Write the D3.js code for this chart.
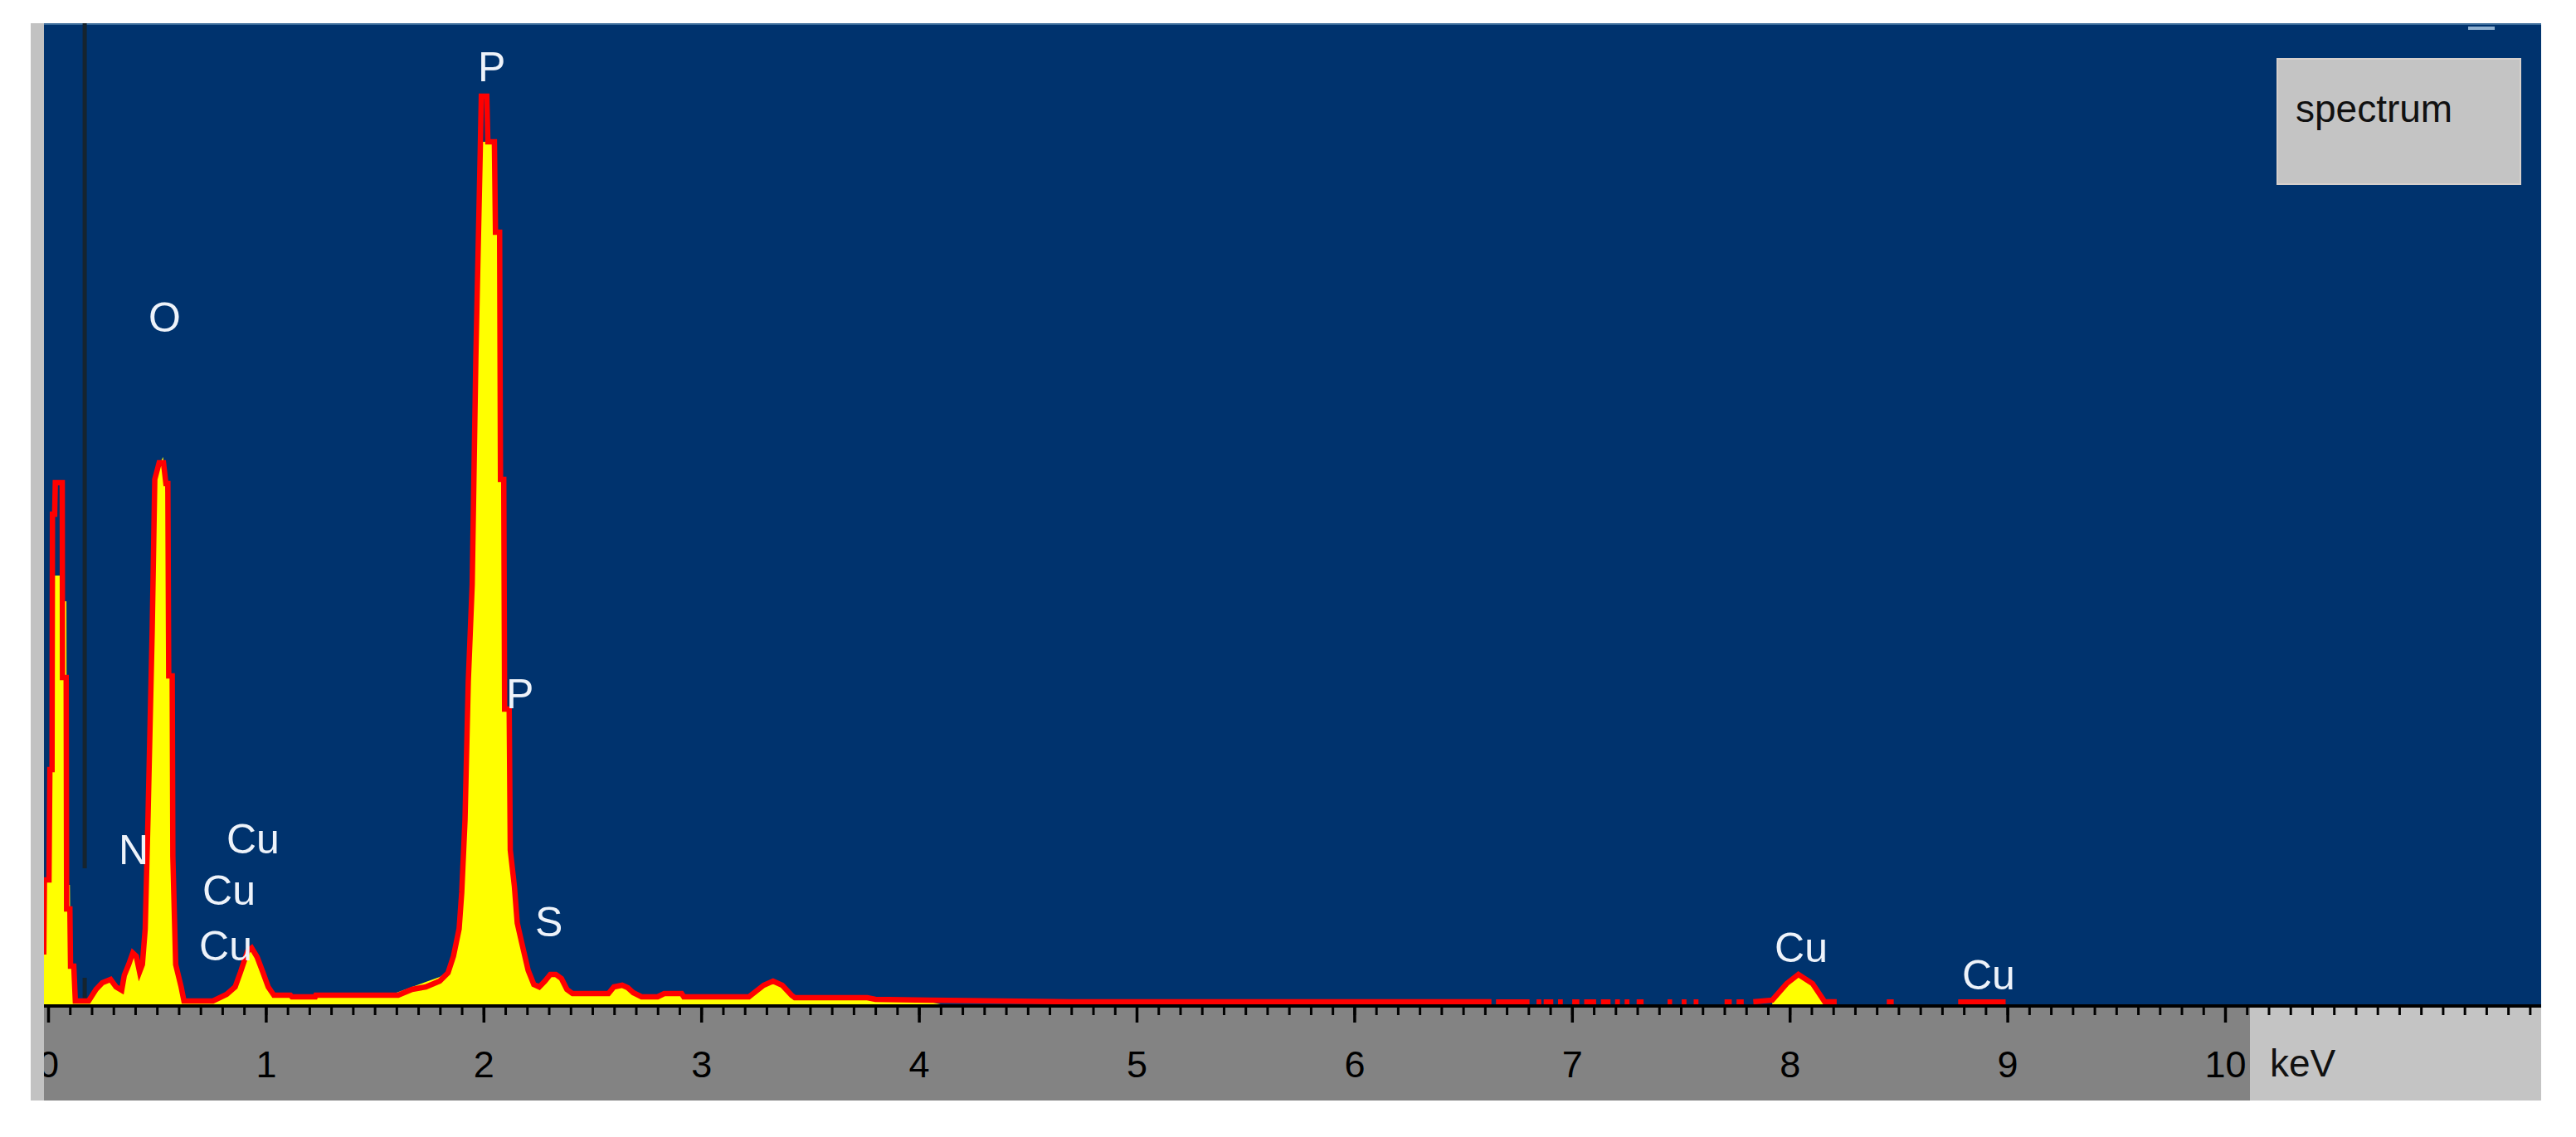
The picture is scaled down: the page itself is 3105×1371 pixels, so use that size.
<html>
<head>
<script src="https://d3js.org/d3.v7.min.js" charset="utf-8"></script>
<style>
  body { margin: 0; background: #ffffff; }
  text { font-family: "Liberation Sans", Arial, sans-serif; }
</style>
<script>

    // spectrum as drawn in red (outline), [keV, counts]
    var redSpectrum = [
        [-0.02, 60], [-0.017, 150], [0.004, 150], [0.008, 283], [0.018, 283], [0.02, 591], [0.03, 591],
        [0.033, 629], [0.065, 629], [0.066, 394], [0.083, 394], [0.085, 115], [0.1, 115], [0.103, 46],
        [0.118, 46], [0.125, 4], [0.186, 4], [0.22, 18], [0.249, 26], [0.287, 30], [0.312, 21],
        [0.338, 17], [0.35, 35], [0.37, 48], [0.389, 62], [0.405, 58], [0.42, 39], [0.433, 48],
        [0.446, 91], [0.459, 227], [0.478, 450], [0.49, 633], [0.51, 653], [0.53, 653], [0.541, 628],
        [0.55, 628], [0.554, 396], [0.57, 396], [0.573, 178], [0.586, 48], [0.611, 21], [0.624, 4],
        [0.757, 4], [0.82, 12], [0.859, 21], [0.884, 39], [0.916, 64], [0.935, 68], [0.96, 57],
        [0.986, 39], [1.011, 21], [1.037, 11], [1.113, 11], [1.12, 9], [1.227, 9], [1.23, 11],
        [1.608, 11], [1.672, 18], [1.735, 21], [1.799, 28], [1.837, 38], [1.862, 58], [1.888, 91],
        [1.9, 135], [1.915, 222], [1.93, 389], [1.948, 506], [1.965, 782], [1.985, 1029], [1.99, 1095],
        [2.015, 1095], [2.02, 1040], [2.05, 1040], [2.055, 931], [2.074, 931], [2.078, 633],
        [2.093, 633], [2.097, 356], [2.118, 356], [2.123, 186], [2.142, 142], [2.155, 98], [2.174, 76],
        [2.205, 41], [2.231, 24], [2.256, 21], [2.282, 28], [2.307, 36], [2.332, 36], [2.358, 31],
        [2.383, 18], [2.409, 13], [2.574, 13], [2.599, 21], [2.637, 23], [2.663, 20], [2.688, 14],
        [2.726, 9], [2.8, 9], [2.83, 13], [2.91, 13], [2.92, 9], [3.219, 9], [3.287, 23], [3.33, 28],
        [3.372, 23], [3.415, 11], [3.43, 8], [3.763, 8], [3.8, 6], [4.05, 5], [4.7, 3], [5.5, 3], [6.63, 3]
    ];

    // spectrum filled in yellow, [keV, counts]
    var yellowSpectrum = [
        [-0.02, 60], [-0.017, 150], [0.004, 150], [0.008, 283], [0.03, 517], [0.065, 517], [0.07, 486],
        [0.084, 486], [0.086, 144], [0.1, 144], [0.103, 46], [0.118, 46], [0.125, 4], [0.186, 4],
        [0.22, 18], [0.249, 26], [0.287, 30], [0.312, 21], [0.338, 17], [0.35, 35], [0.37, 50],
        [0.389, 66], [0.405, 58], [0.42, 39], [0.433, 48], [0.446, 91], [0.459, 227], [0.478, 450],
        [0.49, 633], [0.51, 650], [0.528, 660], [0.535, 640], [0.541, 617], [0.55, 617], [0.556, 396],
        [0.573, 396], [0.576, 178], [0.586, 48], [0.611, 21], [0.624, 4], [0.757, 4], [0.82, 12],
        [0.859, 21], [0.884, 39], [0.916, 64], [0.935, 70], [0.96, 57], [0.986, 39], [1.011, 21],
        [1.037, 11], [1.113, 11], [1.12, 9], [1.227, 9], [1.23, 11], [1.468, 11], [1.47, 14],
        [1.6, 14], [1.672, 21], [1.735, 27], [1.799, 33], [1.837, 40], [1.862, 58], [1.888, 91],
        [1.9, 135], [1.915, 222], [1.93, 389], [1.948, 506], [1.965, 782], [1.985, 1029], [1.995, 1040],
        [2.05, 1040], [2.055, 931], [2.074, 931], [2.078, 633], [2.093, 633], [2.097, 356], [2.118, 356],
        [2.123, 186], [2.142, 142], [2.155, 98], [2.174, 76], [2.205, 41], [2.231, 24], [2.256, 21],
        [2.282, 28], [2.307, 38], [2.332, 38], [2.358, 31], [2.383, 18], [2.409, 13], [2.574, 13],
        [2.599, 21], [2.637, 23], [2.663, 20], [2.688, 14], [2.726, 9], [2.8, 9], [2.83, 12],
        [2.91, 12], [2.92, 8], [3.219, 8], [3.287, 22], [3.33, 28], [3.372, 22], [3.415, 9],
        [3.43, 6], [3.763, 6], [3.8, 4], [4.05, 3], [4.1, 0], [10.5, 0]
    ];

    // Cu K-alpha peak near 8 keV
    var redCuPeak = [[7.833, 3], [7.92, 5], [7.986, 25], [8.04, 36], [8.105, 25], [8.161, 3], [8.216, 3]];
    var yellowCuPeak = [[7.92, 0], [7.92, 3], [7.986, 25], [8.04, 36], [8.105, 25], [8.161, 3], [8.161, 0]];

    // scattered single-count channels above 6.6 keV, [from keV, to keV]
    var tailBins = [
        [6.651, 6.805], [6.837, 6.859], [6.870, 6.914], [6.936, 6.958], [7.001, 7.034], [7.056, 7.111],
        [7.133, 7.177], [7.198, 7.220], [7.242, 7.264], [7.297, 7.329], [7.439, 7.460], [7.504, 7.526],
        [7.559, 7.581], [7.701, 7.734], [7.756, 7.789], [8.446, 8.478], [8.774, 8.992]
    ];
    var tailCount = 3;

    // element labels: text, keV, counts (baseline of text)
    var peakLabels = [
        {name: "P",  kev: 1.974, cnt: 1113},
        {name: "O",  kev: 0.461, cnt: 811},
        {name: "P",  kev: 2.104, cnt: 357},
        {name: "N",  kev: 0.324, cnt: 169},
        {name: "Cu", kev: 0.819, cnt: 182},
        {name: "Cu", kev: 0.709, cnt: 120},
        {name: "Cu", kev: 0.694, cnt: 53},
        {name: "S",  kev: 2.237, cnt: 82},
        {name: "Cu", kev: 7.931, cnt: 51},
        {name: "Cu", kev: 8.792, cnt: 18}
    ];

    var majorTicks = [0, 1, 2, 3, 4, 5, 6, 7, 8, 9, 10];
    var minorTicks = d3.range(0, 115).map(function(i){ return i / 10; });
    var markerKeV = 0.168;
    var unitLabel = "keV";
    var legendText = "spectrum";

window.onload = function(){

    var w = 3105, h = 1371;
    var left = 53, right = 3063, top = 28, base = 1213, bottom = 1327;

    var svg = d3.select("body").append("svg")
        .attr("width", w)
        .attr("height", h);

    var x = d3.scaleLinear().domain([0, 10]).range([58, 2682]);
    var y = d3.scaleLinear().domain([0, 1183]).range([1211, 28]);

    svg.append("defs").append("clipPath")
        .attr("id", "plotclip")
        .append("rect")
        .attr("x", left).attr("y", top)
        .attr("width", right - left).attr("height", base - top);

    // blue plot area
    svg.append("rect")
        .attr("x", left).attr("y", top)
        .attr("width", right - left).attr("height", base - top)
        .style("fill", "#00336e");
    svg.append("line")
        .attr("x1", left).attr("x2", right)
        .attr("y1", top + 1).attr("y2", top + 1)
        .style("stroke", "#3d6d9c").style("stroke-width", 2);

    // dark marker line
    svg.append("line")
        .attr("x1", x(markerKeV)).attr("x2", x(markerKeV))
        .attr("y1", top).attr("y2", y(164))
        .style("stroke", "#16242e").style("stroke-width", 5);
    svg.append("line")
        .attr("x1", x(markerKeV)).attr("x2", x(markerKeV))
        .attr("y1", y(32)).attr("y2", base)
        .style("stroke", "#16242e").style("stroke-width", 5);

    var plot = svg.append("g").attr("clip-path", "url(#plotclip)");

    var area = d3.area()
        .x(function(d){ return x(d[0]); })
        .y0(y(0))
        .y1(function(d){ return y(d[1]); });

    var line = d3.line()
        .x(function(d){ return x(d[0]); })
        .y(function(d){ return y(d[1]); });

    plot.append("path").datum(yellowSpectrum)
        .attr("d", area)
        .style("fill", "#ffff00");
    plot.append("path").datum(yellowCuPeak)
        .attr("d", area)
        .style("fill", "#ffff00");

    plot.append("path").datum(redSpectrum)
        .attr("d", line)
        .style("fill", "none").style("stroke", "#ff0000")
        .style("stroke-width", 6.5).style("stroke-linejoin", "miter");
    plot.append("path").datum(redCuPeak)
        .attr("d", line)
        .style("fill", "none").style("stroke", "#ff0000")
        .style("stroke-width", 6.5);

    plot.selectAll("line.tail")
        .data(tailBins)
        .enter()
        .append("line")
        .attr("class", "tail")
        .attr("x1", function(d){ return x(d[0]); })
        .attr("x2", function(d){ return x(d[1]); })
        .attr("y1", y(tailCount)).attr("y2", y(tailCount))
        .style("stroke", "#ff0000").style("stroke-width", 6);

    // element labels
    svg.selectAll("text.peak")
        .data(peakLabels)
        .enter()
        .append("text")
        .attr("class", "peak")
        .attr("x", function(d){ return x(d.kev); })
        .attr("y", function(d){ return y(d.cnt); })
        .attr("font-size", 50)
        .attr("fill", "#eef3fa")
        .text(function(d){ return d.name; });

    // axis strip
    svg.append("rect")
        .attr("x", left).attr("y", base)
        .attr("width", 2712 - left).attr("height", bottom - base)
        .style("fill", "#838383");
    svg.append("rect")
        .attr("x", 2712).attr("y", base)
        .attr("width", right - 2712).attr("height", bottom - base)
        .style("fill", "#c4c4c4");

    var minorAxis = d3.axisBottom(x)
        .tickValues(minorTicks)
        .tickSize(11)
        .tickFormat("");
    var majorAxis = d3.axisBottom(x)
        .tickValues(majorTicks)
        .tickSize(20)
        .tickPadding(34)
        .tickFormat(d3.format("d"));

    var gMinor = svg.append("g").attr("transform", "translate(0," + base + ")").call(minorAxis);
    var gMajor = svg.append("g").attr("transform", "translate(0," + base + ")").call(majorAxis);
    svg.selectAll(".domain").remove();
    gMinor.selectAll("line").style("stroke", "#000").style("stroke-width", 3);
    gMajor.selectAll("line").style("stroke", "#000").style("stroke-width", 3.5);
    gMajor.selectAll("text")
        .attr("font-size", 45)
        .attr("font-family", "Liberation Sans, Arial, sans-serif")
        .attr("fill", "#000");

    // black baseline
    svg.append("line")
        .attr("x1", left).attr("x2", right)
        .attr("y1", base).attr("y2", base)
        .style("stroke", "#000").style("stroke-width", 4);

    svg.append("text")
        .attr("x", 2736).attr("y", 1298)
        .attr("font-size", 46)
        .attr("fill", "#111")
        .text(unitLabel);

    // light left edge (hides half of the 0)
    svg.append("rect")
        .attr("x", 37).attr("y", top)
        .attr("width", left - 37).attr("height", bottom - top)
        .style("fill", "#c2c2c2");

    // legend box
    svg.append("rect")
        .attr("x", 2745).attr("y", 71)
        .attr("width", 293).attr("height", 151)
        .style("fill", "#c4c4c4")
        .style("stroke", "#d6d0cc").style("stroke-width", 2);
    svg.append("text")
        .attr("x", 2767).attr("y", 147)
        .attr("font-size", 46)
        .attr("fill", "#111")
        .text(legendText);

    // little window dash top right
    svg.append("line")
        .attr("x1", 2975).attr("x2", 3007)
        .attr("y1", 34).attr("y2", 34)
        .style("stroke", "#8fb0d0").style("stroke-width", 4);
}
</script>
</head>
<body>
</body>
</html>
